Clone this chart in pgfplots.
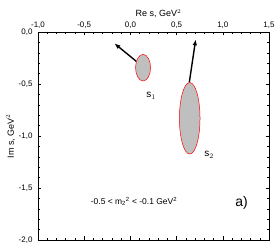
\documentclass[border=0pt]{standalone}
\usepackage{pgfplots}
\pgfplotsset{compat=1.18}
\usepackage{fontspec}
\setmainfont{Liberation Sans}
\usetikzlibrary{arrows.meta}
\begin{document}
\begin{tikzpicture}
\path[use as bounding box] (-38bp,-6bp) rectangle (240bp,240bp);
\begin{axis}[
  at={(0,0)}, anchor=south west,
  scale only axis, width=231bp, height=208bp,
  xmin=-1, xmax=1.5, ymin=-2, ymax=0,
  xtick={-1,-0.5,...,1.5}, ytick={-2,-1.5,...,0},
  minor x tick num=4, minor y tick num=4,
  xticklabel pos=upper, yticklabel pos=left,
  xtick pos=both, ytick pos=both,
  tick align=inside,
  major tick length=3.5bp, minor tick length=2bp,
  tick style={black, line width=0.5bp},
  axis line style={line width=0.7bp},
  /pgf/number format/assume math mode=true,
  /pgf/number format/.cd, use comma, fixed, fixed zerofill, precision=1,
  /pgfplots/.cd,
  ticklabel style={font=\fontsize{8}{9}\selectfont},
  xticklabel style={yshift=0bp},
  yticklabel style={xshift=-2bp},
  xlabel={Re s, GeV$^2$},
  ylabel={Im s, GeV$^2$},
  label style={font=\fontsize{9}{10}\selectfont},
  xlabel style={yshift=-3bp, xshift=5bp},
  ylabel style={yshift=-3bp},
  clip=false,
]
% ellipses (centres as data points)
\addplot[only marks, mark=*, mark size=7.5bp,
  mark options={fill=black!25, draw=red, line width=0.5bp, yscale=1.77}]
  coordinates {(0.137,-0.343)};
\addplot[only marks, mark=*, mark size=10.3bp,
  mark options={fill=black!25, draw=red, line width=0.5bp, yscale=3.47}]
  coordinates {(0.642,-0.830)};
% arrows
\addplot[black, line width=1.4bp, -{Latex[length=6bp,width=4.5bp]}]
  coordinates {(0.064,-0.282) (-0.174,-0.109)};
\addplot[black, line width=1.4bp, -{Latex[length=6bp,width=4.5bp]}]
  coordinates {(0.637,-0.487) (0.707,-0.070)};
\node[font=\fontsize{10}{12}\selectfont] at (axis cs:0.223,-0.615) {s$_1$};
\node[font=\fontsize{10}{12}\selectfont] at (axis cs:0.851,-1.183) {s$_2$};
\node[font=\fontsize{8.5}{10}\selectfont] at (axis cs:0.039,-1.632) {-0.5 < m\textsubscript{2}\textsuperscript{2} < -0.1 GeV\textsuperscript{2}};
\node[font=\fontsize{14}{16}\selectfont] at (axis cs:1.204,-1.647) {a)};
\end{axis}
\end{tikzpicture}
\end{document}
